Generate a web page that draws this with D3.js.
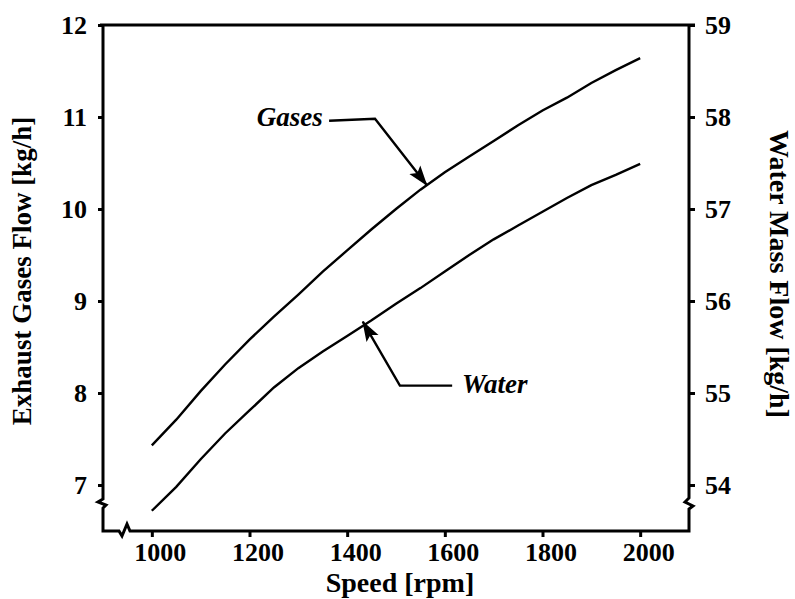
<!DOCTYPE html>
<html>
<head>
<meta charset="utf-8">
<script src="https://cdn.jsdelivr.net/npm/d3@7"></script>
<style>
  body { margin: 0; background: #fff; }
  svg text { font-family: 'Liberation Serif', 'Times New Roman', serif; font-weight: bold; fill: #000; }
</style>
</head>
<body>
<svg id="chart" width="795" height="599"></svg>
<script>
// engine speed [rpm]
const speeds = [1000, 1050, 1100, 1150, 1200, 1250, 1300, 1350, 1400, 1450, 1500,
  1550, 1600, 1650, 1700, 1750, 1800, 1850, 1900, 1950, 2000]
// exhaust gases flow [kg/h], left axis
const gasesFlow = [7.43, 7.71, 8.02, 8.31, 8.58, 8.83, 9.07, 9.32, 9.55, 9.78, 10.00,
  10.21, 10.40, 10.57, 10.74, 10.91, 11.07, 11.21, 11.37, 11.51, 11.64]
// water mass flow [kg/h], right axis
const waterFlow = [53.72, 53.98, 54.28, 54.56, 54.81, 55.06, 55.27, 55.45, 55.62, 55.79, 55.97,
  56.14, 56.32, 56.50, 56.67, 56.82, 56.97, 57.12, 57.26, 57.37, 57.49]

const xTicks = [1000, 1200, 1400, 1600, 1800, 2000]
const leftTicks = [7, 8, 9, 10, 11, 12]
const rightTicks = [54, 55, 56, 57, 58, 59]

const svg = d3.select('#chart')
const plotLeft = 103
const plotRight = 689
const plotTop = 25
const plotBottom = 531
const serif = "'Liberation Serif', 'Times New Roman', serif"

const x = d3.scaleLinear().domain([900, 2100]).range([plotLeft, plotRight])
const yLeft = d3.scaleLinear().domain([6.5, 12]).range([plotBottom, plotTop])
const yRight = d3.scaleLinear().domain([53.5, 59]).range([plotBottom, plotTop])

// axes with ticks only, domain lines drawn by hand (with break marks)
const gx = svg.append('g')
  .attr('transform', 'translate(0,' + plotBottom + ')')
  .call(d3.axisBottom(x).tickValues(xTicks).tickSize(6).tickFormat(d3.format('d')))
// labels sit a little right of their ticks in the original
gx.selectAll('text').attr('dy', null).attr('y', 30).attr('x', 8)

const gl = svg.append('g')
  .attr('transform', 'translate(' + plotLeft + ',0)')
  .call(d3.axisLeft(yLeft).tickValues(leftTicks).tickSize(5).tickPadding(11).tickFormat(d3.format('d')))

const gr = svg.append('g')
  .attr('transform', 'translate(' + plotRight + ',0)')
  .call(d3.axisRight(yRight).tickValues(rightTicks).tickSize(6).tickPadding(10).tickFormat(d3.format('d')))

for (const g of [gx, gl, gr]) {
  g.select('.domain').remove()
  g.attr('font-family', serif).attr('font-size', 26).attr('font-weight', 'bold')
}

svg.selectAll('.tick line').attr('stroke', '#000').attr('stroke-width', 3)
svg.selectAll('.tick text')
  .attr('fill', '#000')
  .style('font-family', serif)
  .style('font-size', '26px')
  .style('font-weight', 'bold')

// frame: top line, left / right axes with breaks, bottom axis with break
const frame = d3.path()
frame.moveTo(plotLeft - 3, plotTop)
frame.lineTo(plotRight + 6, plotTop)
frame.moveTo(plotLeft, plotTop)
frame.lineTo(plotLeft, 499)
frame.lineTo(98, 502)
frame.lineTo(106, 505)
frame.lineTo(plotLeft, 508)
frame.lineTo(plotLeft, plotBottom)
frame.lineTo(119, plotBottom)
frame.lineTo(122, 536)
frame.lineTo(127, 524)
frame.lineTo(130, plotBottom)
frame.lineTo(plotRight, plotBottom)
frame.lineTo(plotRight, 509)
frame.lineTo(693, 506)
frame.lineTo(685, 502)
frame.lineTo(plotRight, 498)
frame.lineTo(plotRight, plotTop)

svg.append('path')
  .attr('d', frame.toString())
  .attr('fill', 'none')
  .attr('stroke', '#000')
  .attr('stroke-width', 3)
  .attr('stroke-linejoin', 'miter')

// curves
const gasesLine = d3.line()
  .x(function (d, i) { return x(speeds[i]) })
  .y(function (d) { return yLeft(d) })

const waterLine = d3.line()
  .x(function (d, i) { return x(speeds[i]) })
  .y(function (d) { return yRight(d) })

svg.append('path')
  .attr('d', gasesLine(gasesFlow))
  .attr('fill', 'none').attr('stroke', '#000').attr('stroke-width', 2.4)

svg.append('path')
  .attr('d', waterLine(waterFlow))
  .attr('fill', 'none').attr('stroke', '#000').attr('stroke-width', 2.4)

// arrow head marker
svg.append('defs').append('marker')
  .attr('id', 'head')
  .attr('viewBox', '0 0 10 10')
  .attr('refX', 9.5).attr('refY', 5)
  .attr('markerWidth', 8.5).attr('markerHeight', 8.5)
  .attr('markerUnits', 'strokeWidth')
  .attr('orient', 'auto')
  .append('path')
  .attr('d', 'M0,1.6 L10,5 L0,8.4 L2,5 Z')
  .attr('fill', '#000')

// annotation for gases (left axis units)
const gasesArrow = [[1363, 10.96], [1457, 10.98], [1563, 10.26]]
svg.append('path')
  .attr('d', d3.line().x(function (d) { return x(d[0]) }).y(function (d) { return yLeft(d[1]) })(gasesArrow))
  .attr('fill', 'none').attr('stroke', '#000').attr('stroke-width', 2.4)
  .attr('marker-end', 'url(#head)')

svg.append('text')
  .attr('x', x(1350)).attr('y', yLeft(10.9))
  .attr('text-anchor', 'end')
  .style('font-size', '27px').style('font-style', 'italic')
  .text('Gases')

// annotation for water (right axis units)
const waterArrow = [[1615, 55.08], [1508, 55.08], [1432, 55.775]]
svg.append('path')
  .attr('d', d3.line().x(function (d) { return x(d[0]) }).y(function (d) { return yRight(d[1]) })(waterArrow))
  .attr('fill', 'none').attr('stroke', '#000').attr('stroke-width', 2.4)
  .attr('marker-end', 'url(#head)')

svg.append('text')
  .attr('x', x(1635)).attr('y', yRight(55.0))
  .style('font-size', '27px').style('font-style', 'italic')
  .text('Water')

// axis titles
svg.append('text')
  .attr('x', 400).attr('y', 592)
  .attr('text-anchor', 'middle')
  .style('font-size', '28px')
  .text('Speed [rpm]')

svg.append('text')
  .attr('transform', 'translate(31,271) rotate(-90)')
  .attr('text-anchor', 'middle')
  .style('font-size', '27px')
  .text('Exhaust Gases Flow [kg/h]')

svg.append('text')
  .attr('transform', 'translate(770,274) rotate(90)')
  .attr('text-anchor', 'middle')
  .style('font-size', '28px')
  .text('Water Mass Flow [kg/h]')
</script>
</body>
</html>
